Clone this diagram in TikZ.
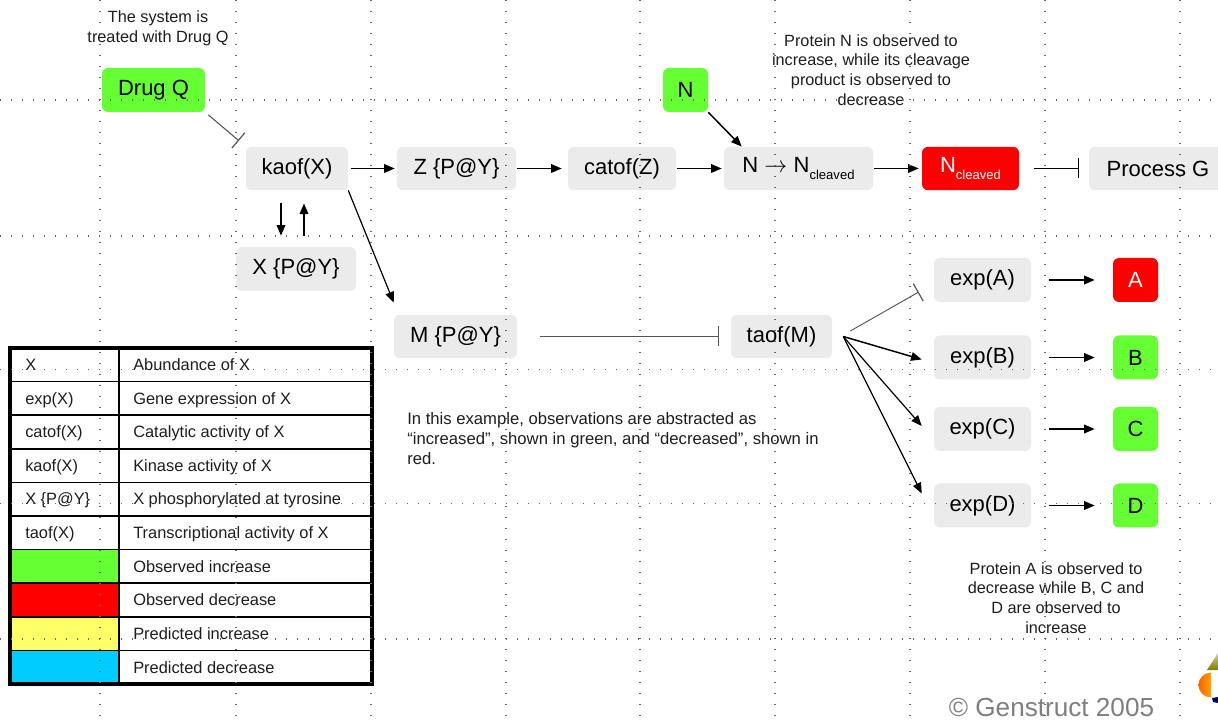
\documentclass[tikz,border=0pt]{standalone}
\usepackage{fontspec}
\setmainfont{Liberation Sans}
\usetikzlibrary{arrows.meta}

\definecolor{obsup}{HTML}{66FF33}
\definecolor{obsdown}{HTML}{FF0000}
\definecolor{predup}{HTML}{FFFF66}
\definecolor{preddown}{HTML}{00CCFF}
\definecolor{boxgray}{HTML}{EBEBEB}
\definecolor{inkc}{HTML}{1E1E1E}
\definecolor{inhc}{HTML}{555555}
\definecolor{gridc}{HTML}{666666}
\definecolor{copyc}{HTML}{7F7F7F}

\newcommand\subtxt[1]{\raisebox{-0.3em}{\fontsize{9.8}{10}\selectfont #1}}

\begin{document}
\begin{tikzpicture}[x=0.75pt,y=-0.75pt,
  entity/.style={rounded corners=4.5pt, fill=boxgray, inner sep=0pt,
    minimum height=32.5pt, font=\fontsize{16.5}{18}\selectfont, text=black},
  obsinc/.style={entity, fill=obsup},
  obsdec/.style={entity, fill=obsdown, text=white},
  act/.style={line width=1.1pt, -{Triangle[length=8pt,width=6.5pt]}},
  inh/.style={line width=0.8pt, draw=inhc, -{Bar[width=15pt,line width=0.9pt]}},
  note/.style={font=\fontsize{12.2}{14.8}\selectfont, text=inkc, align=center, inner sep=0pt},
  legtext/.style={font=\fontsize{12.3}{14}\selectfont, text=inkc, inner sep=0pt, anchor=base west},
  gridline/.style={draw=gridc, line width=0.8pt, dash pattern=on 0.8pt off 7.45pt},
]
\clip (0,0) rectangle (1218,723);
\fill[white] (0,0) rectangle (1218,723);

% ---- annotations ----
\node[note] (treatnote) at (158,28) {The system is\\treated with Drug Q};
\node[note] (nnote) at (871,70) {Protein N is observed to\\increase, while its cleavage\\product is observed to\\decrease};
\node[note, font=\fontsize{12.5}{14.8}\selectfont, align=left, anchor=west] (examplenote) at (407,438.5) {In this example, observations are abstracted as\\“increased”, shown in green, and “decreased”, shown in\\red.};
\node[note] (anote) at (1056,598) {Protein A is observed to\\decrease while B, C and\\D are observed to\\increase};

% ---- entities ----
\node[obsinc, minimum width=77.25pt, minimum height=33pt] (drugq) at (153.5,90) {Drug Q};
\node[entity, minimum width=76.5pt] (kaof) at (297,168.5) {kaof(X)};
\node[entity, minimum width=89.25pt] (zpy) at (456.5,168.5) {Z \{P@Y\}};
\node[entity, minimum width=81pt] (catofz) at (622,168.5) {catof(Z)};
\node[entity, minimum width=111.75pt] (ncleave) at (798.5,168.5) {N $\rightarrow$ N\subtxt{cleaved}};
\node[obsinc, minimum width=33.75pt, minimum height=33pt] (nfree) at (685.5,90) {N};
\node[obsdec, minimum width=72.75pt] (ncl) at (970.5,168.5) {N\subtxt{cleaved}};
\node[entity, minimum width=103.5pt] (procg) at (1158,168.5) {Process G};
\node[entity, minimum width=90pt, minimum height=33pt] (xpy) at (296,269) {X \{P@Y\}};
\node[entity, minimum width=92.25pt] (mpy) at (455.5,336.5) {M \{P@Y\}};
\node[entity, minimum width=75.75pt] (taof) at (781.5,336.5) {taof(M)};

\node[entity, minimum width=72.75pt, minimum height=33pt] (expa) at (982.5,280) {exp(A)};
\node[entity, minimum width=72.75pt, minimum height=33pt] (expb) at (982.5,357.5) {exp(B)};
\node[entity, minimum width=72.75pt, minimum height=33pt] (expc) at (982.5,429) {exp(C)};
\node[entity, minimum width=72.75pt, minimum height=33pt] (expd) at (982.5,505.5) {exp(D)};

\node[obsdec, minimum width=33.75pt, minimum height=33pt] (obsa) at (1135.5,280) {A};
\node[obsinc, minimum width=33.75pt, minimum height=33pt] (obsb) at (1135.5,357.5) {B};
\node[obsinc, minimum width=33.75pt, minimum height=33pt] (obsc) at (1135.5,429) {C};
\node[obsinc, minimum width=33.75pt, minimum height=33pt] (obsd) at (1135.5,505.5) {D};

% ---- connectors ----
\draw[inh, shorten <=3pt, shorten >=6.75pt] (drugq.south east) -- (kaof.north west);
\draw[act, shorten <=2.25pt, shorten >=1.5pt] (kaof) -- (zpy);
\draw[act, shorten <=0.75pt, shorten >=4.5pt] (zpy) -- (catofz);
\draw[act, shorten <=0.75pt, shorten >=1.5pt] (catofz) -- (ncleave);
\draw[act] (nfree.south east) -- ([xshift=13.5pt]ncleave.north west);
\draw[act, shorten <=0.75pt, shorten >=2.25pt] (ncleave) -- (ncl);
\draw[inh, draw=black, line width=0.7pt, shorten <=11.25pt, shorten >=7.5pt] (ncl) -- (procg);

\draw[act, shorten <=9.75pt, shorten >=8.25pt] ([xshift=-12pt]kaof.south) -- ([xshift=-11.25pt]xpy.north);
\draw[act, shorten <=8.25pt, shorten >=9.75pt] ([xshift=6pt]xpy.north) -- ([xshift=5.25pt]kaof.south);
\draw[act, line width=0.9pt] (kaof.south east) -- ([yshift=9pt]mpy.north west);

\draw[inh, shorten <=17.25pt, shorten >=9pt] (mpy) -- (taof);

\coordinate (fan) at ([xshift=8.25pt]taof.east);
\draw[inh, line width=0.7pt] ([xshift=13.5pt,yshift=4.1pt]taof.east) -- ([xshift=-11.25pt,yshift=-9pt]expa.west);
\draw[act] (fan) -- ([xshift=-9pt,yshift=-1.5pt]expb.west);
\draw[act, line width=0.9pt] (fan) -- ([xshift=-9pt,yshift=2.25pt]expc.west);
\draw[act, line width=0.9pt] (fan) -- ([xshift=-9pt,yshift=9pt]expd.west);

\draw[act, shorten <=13.5pt, shorten >=13.5pt] (expa) -- (obsa);
\draw[act, shorten <=13.5pt, shorten >=13.5pt] (expb) -- (obsb);
\draw[act, shorten <=13.5pt, shorten >=13.5pt] (expc) -- (obsc);
\draw[act, shorten <=13.5pt, shorten >=13.5pt] (expd) -- (obsd);

% ---- legend table ----
\foreach \i/\c in {7/obsup, 8/obsdown, 9/predup, 10/preddown}
  \fill[\c] (10,{348+(\i-1)*33.6}) rectangle (119,{348+\i*33.6});
\foreach \i in {1,...,9}
  \draw[line width=1.2pt] (10,{348+\i*33.6}) -- (372,{348+\i*33.6});
\draw[line width=1.2pt] (119,348) -- (119,684);
\draw[line width=3pt] (10,348) rectangle (372,684);

\foreach \i/\k in {1/X, 2/exp(X), 3/catof(X), 4/kaof(X), 5/X \{P@Y\}, 6/taof(X)}
  \node[legtext] (key\i) at (25,{348+(\i-0.5)*33.6+5.8}) {\k};
\foreach \i/\d in {1/Abundance of X, 2/Gene expression of X, 3/Catalytic activity of X,
    4/Kinase activity of X, 5/X phosphorylated at tyrosine, 6/Transcriptional activity of X,
    7/Observed increase, 8/Observed decrease, 9/Predicted increase, 10/Predicted decrease}
  \node[legtext] (desc\i) at (133,{348+(\i-0.5)*33.6+5.8}) {\d};

% ---- footer ----
\node[font=\fontsize{19.6}{22}\selectfont, text=copyc, inner sep=0pt] (copyright) at (1051.5,708) {© Genstruct 2005};

% logo fragment at the page edge
\begin{scope}
  \clip (1190,660) rectangle (1211,700);
  \shade[left color=orange!75!red, right color=yellow!85!orange] (1211,685) circle[radius=12.5];
\end{scope}
\shade[top color=gray!40, bottom color=olive!70!gray] (1207,670) -- (1218,653) -- (1218,670) -- cycle;
\fill[blue!40!black] (1212,698) -- (1218,697) -- (1218,703) -- (1213,702) -- cycle;

% ---- dotted guide grid ----
\foreach \gx in {100,236,371,506,640,775,910,1045,1180}
  \draw[gridline] (\gx,0) -- (\gx,723);
\foreach \gy in {100,236,369.5,503.5,639}
  \draw[gridline] (0,\gy) -- (1218,\gy);
\end{tikzpicture}
\end{document}
